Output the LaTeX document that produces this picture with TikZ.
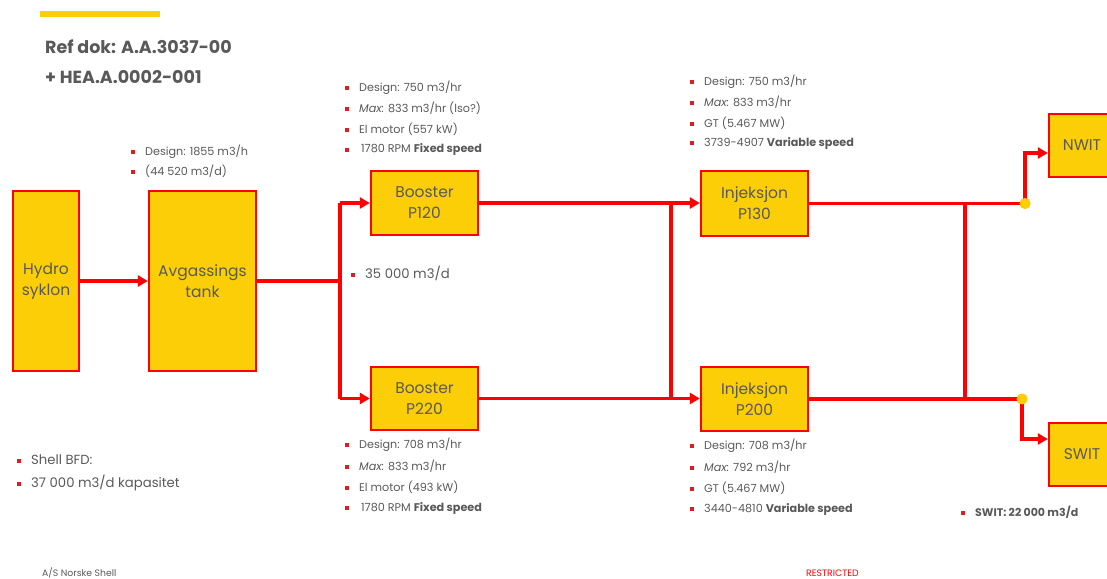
\documentclass[tikz,border=0pt]{standalone}
\usepackage{fontspec}
\setmainfont{Poppins}
\usetikzlibrary{arrows.meta}
\definecolor{shellyellow}{HTML}{FBCE07}
\definecolor{shellred}{HTML}{FF0000}
\definecolor{txtgray}{HTML}{595959}
\definecolor{bulletred}{HTML}{DD1D21}
\newcommand{\blt}{\textcolor{bulletred}{\rule[0.12em]{4pt}{4pt}}\hspace{10pt}}
\tikzset{
  box/.style={draw=shellred, line width=2.4pt, fill=shellyellow, text=txtgray,
    font=\fontsize{15.5}{21}\selectfont, align=center, inner sep=0pt},
  flow/.style={draw=shellred, line width=3.6pt},
  flowarrow/.style={flow, -{Triangle[length=10pt,width=11pt]}},
  note/.style={anchor=west, text=txtgray, font=\fontsize{11.2}{13}\selectfont, inner sep=0pt},
  bignote/.style={anchor=west, text=txtgray, font=\fontsize{13.2}{15}\selectfont, inner sep=0pt},
  dot/.style={circle, fill=shellyellow, inner sep=0pt, minimum size=11pt},
}
\begin{document}
\begin{tikzpicture}[x=1pt,y=-1pt]
\useasboundingbox (0,0) rectangle (1107,578);
\clip (0,0) rectangle (1107,578);
% header
\fill[shellyellow] (40,11) rectangle (160,17);
\node[anchor=west, text=txtgray, font=\fontsize{17.5}{20}\selectfont\bfseries, inner sep=0pt] (ref1) at (45,47) {Ref dok: A.A.3037-00};
\node[anchor=west, text=txtgray, font=\fontsize{17.5}{20}\selectfont\bfseries, inner sep=0pt] (ref2) at (45,77) {+ HEA.A.0002-001};
% boxes
\node[box, minimum width=66pt, minimum height=180pt] (hydro) at (46,281) {Hydro\\syklon};
\node[box, minimum width=107pt, minimum height=180pt] (avg) at (202.5,281) {Avgassings\\tank};
\node[box, minimum width=107pt, minimum height=64pt] (b1) at (424.5,203) {Booster\\P120};
\node[box, minimum width=107pt, minimum height=63pt] (b2) at (424.5,398.5) {Booster\\P220};
\node[box, minimum width=107pt, minimum height=65pt] (i1) at (754.5,203.5) {Injeksjon\\P130};
\node[box, minimum width=107pt, minimum height=64pt] (i2) at (754.5,399) {Injeksjon\\P200};
\node[box, minimum width=68pt, minimum height=63pt] (nwit) at (1083,145.5) {NWIT\hspace*{2pt}};
\node[box, minimum width=68pt, minimum height=63pt] (swit) at (1083,454.5) {SWIT\hspace*{2pt}};
% coordinates
\coordinate (s) at (340,281);
\coordinate (s1) at (340,203);
\coordinate (s2) at (340,398.5);
\coordinate (j1) at (671,203);
\coordinate (j2) at (671,398.5);
\coordinate (k1) at (965,203.5);
\coordinate (k2) at (965,399);
\coordinate (n1) at (1025,153);
\coordinate (w1) at (1022,439);
% connectors
\draw[flowarrow] (hydro) -- (avg);
\draw[flow] (avg.east) -- (s);
\draw[flow] (s1) -- (s2);
\draw[flowarrow] (s1) -- (b1.west);
\draw[flowarrow] (s2) -- (b2.west);
\draw[flowarrow] (b1.east) -- (i1.west |- b1.east);
\draw[flowarrow] (b2.east) -- (i2.west |- b2.east);
\draw[flow] (j1) -- (j2);
\node[dot] (d1) at (1025,203.5) {};
\node[dot] (d2) at (1022,399) {};
\draw[flow] (i1.east) -- (d1.center);
\draw[flow] (i2.east) -- (d2.center);
\draw[flow] (k1) -- (k2);
\draw[flowarrow] (d1.center) -- (n1) -- (n1 -| nwit.west);
\draw[flowarrow] (d2.center) -- (w1) -- (w1 -| swit.west);
\node[dot] at (d1) {};
\node[dot] at (d2) {};
% notes
\node[note] (a1) at (131,152) {\blt Design: 1855 m3/h};
\node[note] (a2) at (131,171) {\blt (44 520 m3/d)};
\node[note] (p1) at (345,88) {\blt Design: 750 m3/hr};
\node[note] (p2) at (345,108.5) {\blt \textit{Max:} 833 m3/hr (lso?)};
\node[note] (p3) at (345,129) {\blt El motor (557 kW)};
\node[note] (p4) at (345,150) {\blt \,1780 RPM \textbf{Fixed speed}};
\node[note] (q1) at (690,82) {\blt Design: 750 m3/hr};
\node[note] (q2) at (690,102.5) {\blt \textit{Max:} 833 m3/hr};
\node[note] (q3) at (690,123) {\blt GT (5.467 MW)};
\node[note] (q4) at (690,143.5) {\blt 3739-4907 \textbf{Variable speed}};
\node[note] (r1) at (345,444.5) {\blt Design: 708 m3/hr};
\node[note] (r2) at (345,466) {\blt \textit{Max:} 833 m3/hr};
\node[note] (r3) at (345,487) {\blt El motor (493 kW)};
\node[note] (r4) at (345,508) {\blt \,1780 RPM \textbf{Fixed speed}};
\node[note] (t1) at (690,446) {\blt Design: 708 m3/hr};
\node[note] (t2) at (690,467) {\blt \textit{Max:} 792 m3/hr};
\node[note] (t3) at (690,488) {\blt GT (5.467 MW)};
\node[note] (t4) at (690,509) {\blt 3440-4810 \textbf{Variable speed}};
\node[bignote] (flow35) at (351,273) {\blt 35 000 m3/d};
\node[bignote] (bfd1) at (17,460) {\blt Shell BFD:};
\node[bignote] (bfd2) at (17,483) {\blt 37 000 m3/d kapasitet};
\node[note, font=\fontsize{11}{13}\selectfont\bfseries] (swn) at (961,512) {\blt SWIT: 22 000 m3/d};
\node[anchor=west, text=txtgray, font=\fontsize{9.3}{10}\selectfont, inner sep=0pt] (foot1) at (42,573) {A/S Norske Shell};
\node[anchor=west, text=shellred, font=\fontsize{9.3}{10}\selectfont, inner sep=0pt] (foot2) at (806,573) {RESTRICTED};
\end{tikzpicture}
\end{document}
